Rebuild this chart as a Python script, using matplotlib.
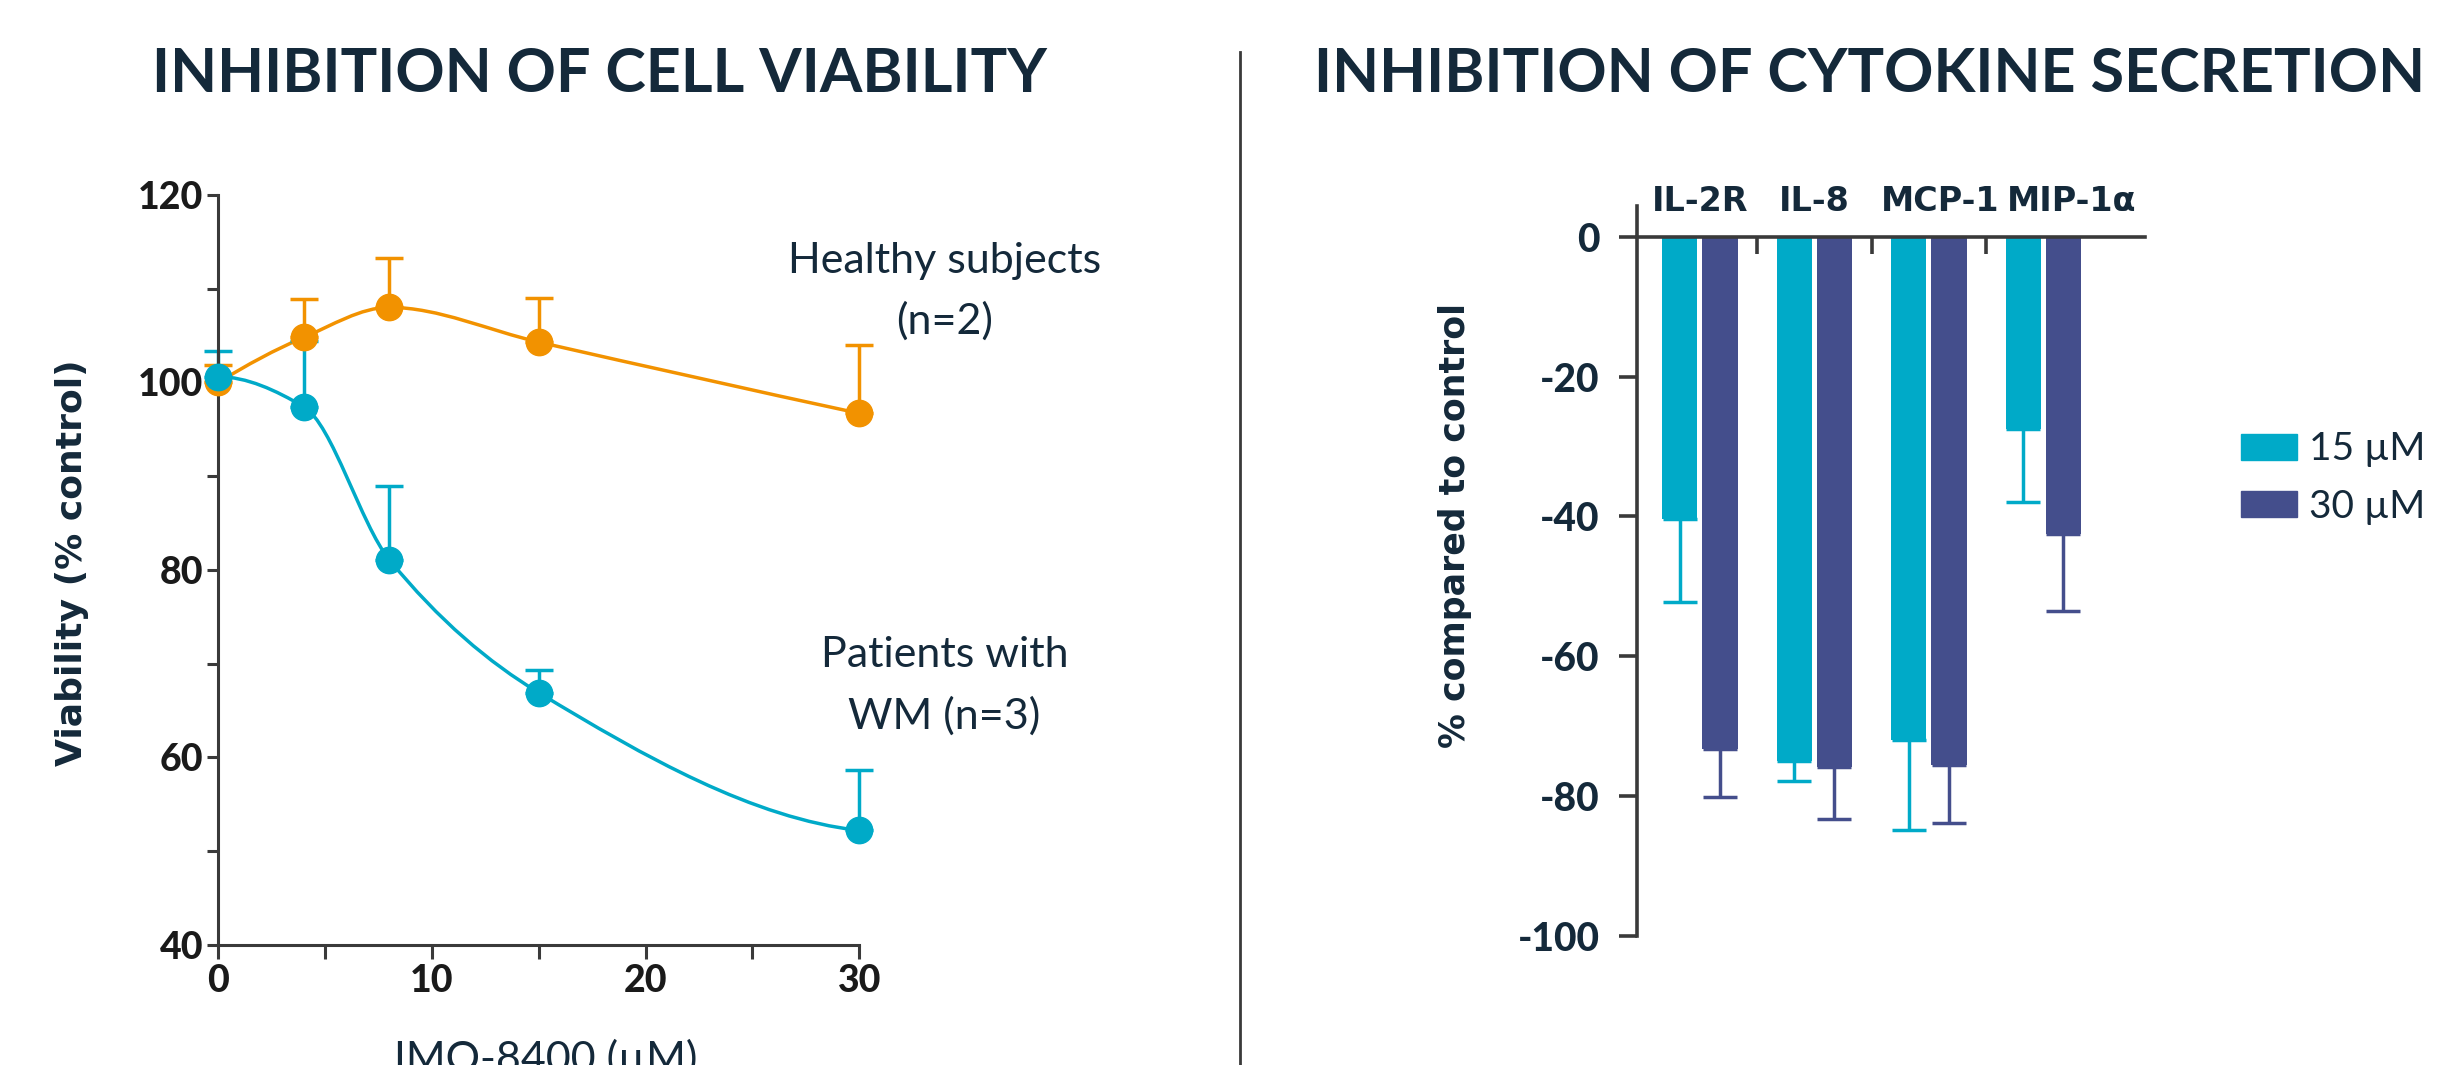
import numpy as np
import matplotlib
matplotlib.use("Agg")
import matplotlib.pyplot as plt
from matplotlib.path import Path
from matplotlib.patches import PathPatch, Patch

# ---- data: cell viability ----
dose = [0, 4, 8, 15, 30]
healthy = [100.0, 104.8, 108.0, 104.3, 96.7]
healthy_err = [1.9, 4.1, 5.3, 4.7, 7.3]
patients = [100.6, 97.4, 81.1, 66.9, 52.2]
patients_err = [2.7, 7.0, 7.9, 2.4, 6.5]

# ---- data: cytokine secretion ----
cytokines = ["IL-2R", "IL-8", "MCP-1", "MIP-1α"]
conc_labels = ["15 µM", "30 µM"]
val_15 = [-40.3, -75.0, -71.9, -27.5]
err_15 = [11.9, 2.8, 13.0, 10.4]
val_30 = [-73.3, -75.9, -75.5, -42.5]
err_30 = [6.8, 7.4, 8.3, 11.0]

ORANGE = "#F29200"
CYAN = "#00AAC8"
NAVY = "#444E8C"
TEXT = "#14293A"
AXC = "#3A3A3A"

plt.rcParams["font.family"] = ["Lato", "DejaVu Sans"]


def pchip_slopes(x, y):
    x = np.asarray(x, float); y = np.asarray(y, float)
    h = np.diff(x); d = np.diff(y) / h
    m = np.zeros_like(y)
    for k in range(1, len(x) - 1):
        if d[k - 1] * d[k] > 0:
            w1 = 2 * h[k] + h[k - 1]
            w2 = h[k] + 2 * h[k - 1]
            m[k] = (w1 + w2) / (w1 / d[k - 1] + w2 / d[k])
    def end(h0, h1, d0, d1):
        s = ((2 * h0 + h1) * d0 - h0 * d1) / (h0 + h1)
        if np.sign(s) != np.sign(d0):
            s = 0.0
        elif np.sign(d0) != np.sign(d1) and abs(s) > abs(3 * d0):
            s = 3 * d0
        return s
    m[0] = end(h[0], h[1], d[0], d[1])
    m[-1] = end(h[-1], h[-2], d[-1], d[-2])
    return m


def smooth_path(x, y):
    # cubic hermite segments written as bezier curves
    m = pchip_slopes(x, y)
    verts = [(x[0], y[0])]
    codes = [Path.MOVETO]
    for k in range(len(x) - 1):
        h = (x[k + 1] - x[k]) / 3.0
        verts += [(x[k] + h, y[k] + m[k] * h),
                  (x[k + 1] - h, y[k + 1] - m[k + 1] * h),
                  (x[k + 1], y[k + 1])]
        codes += [Path.CURVE4] * 3
    return Path(verts, codes)


fig = plt.figure(figsize=(24.45, 10.65), dpi=100)

# ---------------- left panel ----------------
ax1 = fig.add_axes([0.0893, 0.1128, 0.2621, 0.7042])
for y, e, c in [(healthy, healthy_err, ORANGE), (patients, patients_err, CYAN)]:
    ax1.add_patch(PathPatch(smooth_path(dose, y), fill=False, edgecolor=c,
                            lw=2.5, zorder=2, clip_on=False))
    ax1.errorbar(dose, y, yerr=[np.zeros(len(e)), e], fmt="none", ecolor=c,
                 elinewidth=2.5, capsize=10, capthick=2.5, zorder=2, clip_on=False)
    ax1.plot(dose, y, "o", color=c, ms=19, zorder=3, clip_on=False)

ax1.set_xlim(0, 30)
ax1.set_ylim(40, 120)
for s in ["top", "right"]:
    ax1.spines[s].set_visible(False)
for s in ["left", "bottom"]:
    ax1.spines[s].set_color(AXC)
    ax1.spines[s].set_linewidth(2.2)
ax1.set_xticks([0, 10, 20, 30])
ax1.set_xticks([5, 15, 25], minor=True)
ax1.set_yticks([40, 60, 80, 100, 120])
ax1.set_yticks([50, 70, 90, 110], minor=True)
ax1.tick_params(which="both", color=AXC, width=2.2, direction="out")
ax1.tick_params(axis="y", which="both", length=8, pad=3)
ax1.tick_params(axis="x", which="both", length=10, pad=4)
for lab in ax1.get_xticklabels() + ax1.get_yticklabels():
    lab.set_fontsize(27)
    lab.set_fontweight("black")
    lab.set_color("#1A1A1A")
ax1.set_ylabel("Viability (% control)", family="DejaVu Sans", fontsize=26,
               fontweight="bold", color=TEXT)
ax1.yaxis.set_label_coords(-0.202, 0.51)
for txt, yv in [("Healthy subjects", 113.0), ("(n=2)", 106.5),
                ("Patients with", 70.9), ("WM (n=3)", 64.4)]:
    ax1.text(34.0, yv, txt, fontsize=31, color=TEXT, ha="center", va="center")
# axis title runs off the bottom edge, as in the original
fig.text(546 / 2445, 1 - 1072 / 1065, "IMO-8400 (µM)", fontsize=31, color=TEXT,
         ha="center", va="baseline")

# ---------------- right panel ----------------
ax2 = fig.add_axes([0.6695, 0.1211, 0.2076, 0.6855])
xpos = np.arange(len(cytokines))
off, bw = 0.175, 0.309
ax2.bar(xpos - off, val_15, bw, color=CYAN, zorder=2)
ax2.bar(xpos + off, val_30, bw, color=NAVY, zorder=2)
ax2.errorbar(xpos - off, val_15, yerr=[err_15, np.zeros(4)], fmt="none",
             ecolor=CYAN, elinewidth=2.5, capsize=12, capthick=2.5, zorder=1)
ax2.errorbar(xpos + off, val_30, yerr=[err_30, np.zeros(4)], fmt="none",
             ecolor=NAVY, elinewidth=2.5, capsize=12, capthick=2.5, zorder=1)
ax2.set_xlim(-0.549, 3.884)
ax2.set_ylim(-100, 4.4)
for s in ["top", "right"]:
    ax2.spines[s].set_visible(False)
ax2.spines["bottom"].set_position(("data", 0))
for s in ["left", "bottom"]:
    ax2.spines[s].set_color(AXC)
    ax2.spines[s].set_linewidth(2.6)
ax2.set_xticks(xpos[:-1] + 0.5)
ax2.set_xticklabels([])
ax2.set_yticks([0, -20, -40, -60, -80, -100])
ax2.set_yticklabels(["0", "-20", "-40", "-60", "-80", "-100"], fontsize=28,
                    fontweight="black", color=TEXT)
ax2.tick_params(axis="y", color=AXC, width=2.6, length=13, pad=14)
ax2.tick_params(axis="x", color=AXC, width=2.6, length=12, direction="out")
# the category names sit a little right of their groups in the original
label_nudge = [0.0, 0.0, 0.1, 0.25]
for i, name in enumerate(cytokines):
    ax2.text(xpos[i] + label_nudge[i], 3.7, name, family="DejaVu Sans", fontsize=24,
             fontweight="bold", color=TEXT, ha="center", va="baseline", clip_on=False)
ax2.set_ylabel("% compared to control", family="DejaVu Sans", fontsize=25,
               fontweight="bold", color=TEXT)
ax2.yaxis.set_label_coords(-0.325, 0.562)
handles = [Patch(color=CYAN), Patch(color=NAVY)]
fig.legend(handles, conc_labels, loc="center left",
           bbox_to_anchor=(2241 / 2445, 1 - 478 / 1065), frameon=False,
           fontsize=28, labelcolor=TEXT, handlelength=1.45, handleheight=0.66,
           handletextpad=0.3, labelspacing=0.55, borderpad=0, borderaxespad=0)

# ---------------- titles and divider ----------------
tfont = dict(fontsize=44, fontweight="bold", color=TEXT, ha="center", va="baseline")
fig.text(600 / 2445, 1 - 92 / 1065, "INHIBITION OF CELL VIABILITY", **tfont)
fig.text(1870 / 2445, 1 - 92 / 1065, "INHIBITION OF CYTOKINE SECRETION", **tfont)
fig.add_artist(plt.Line2D([1240 / 2445, 1240 / 2445], [0, 1 - 52 / 1065],
                          color=AXC, lw=2.0))

fig.savefig("out.png", dpi=100)
